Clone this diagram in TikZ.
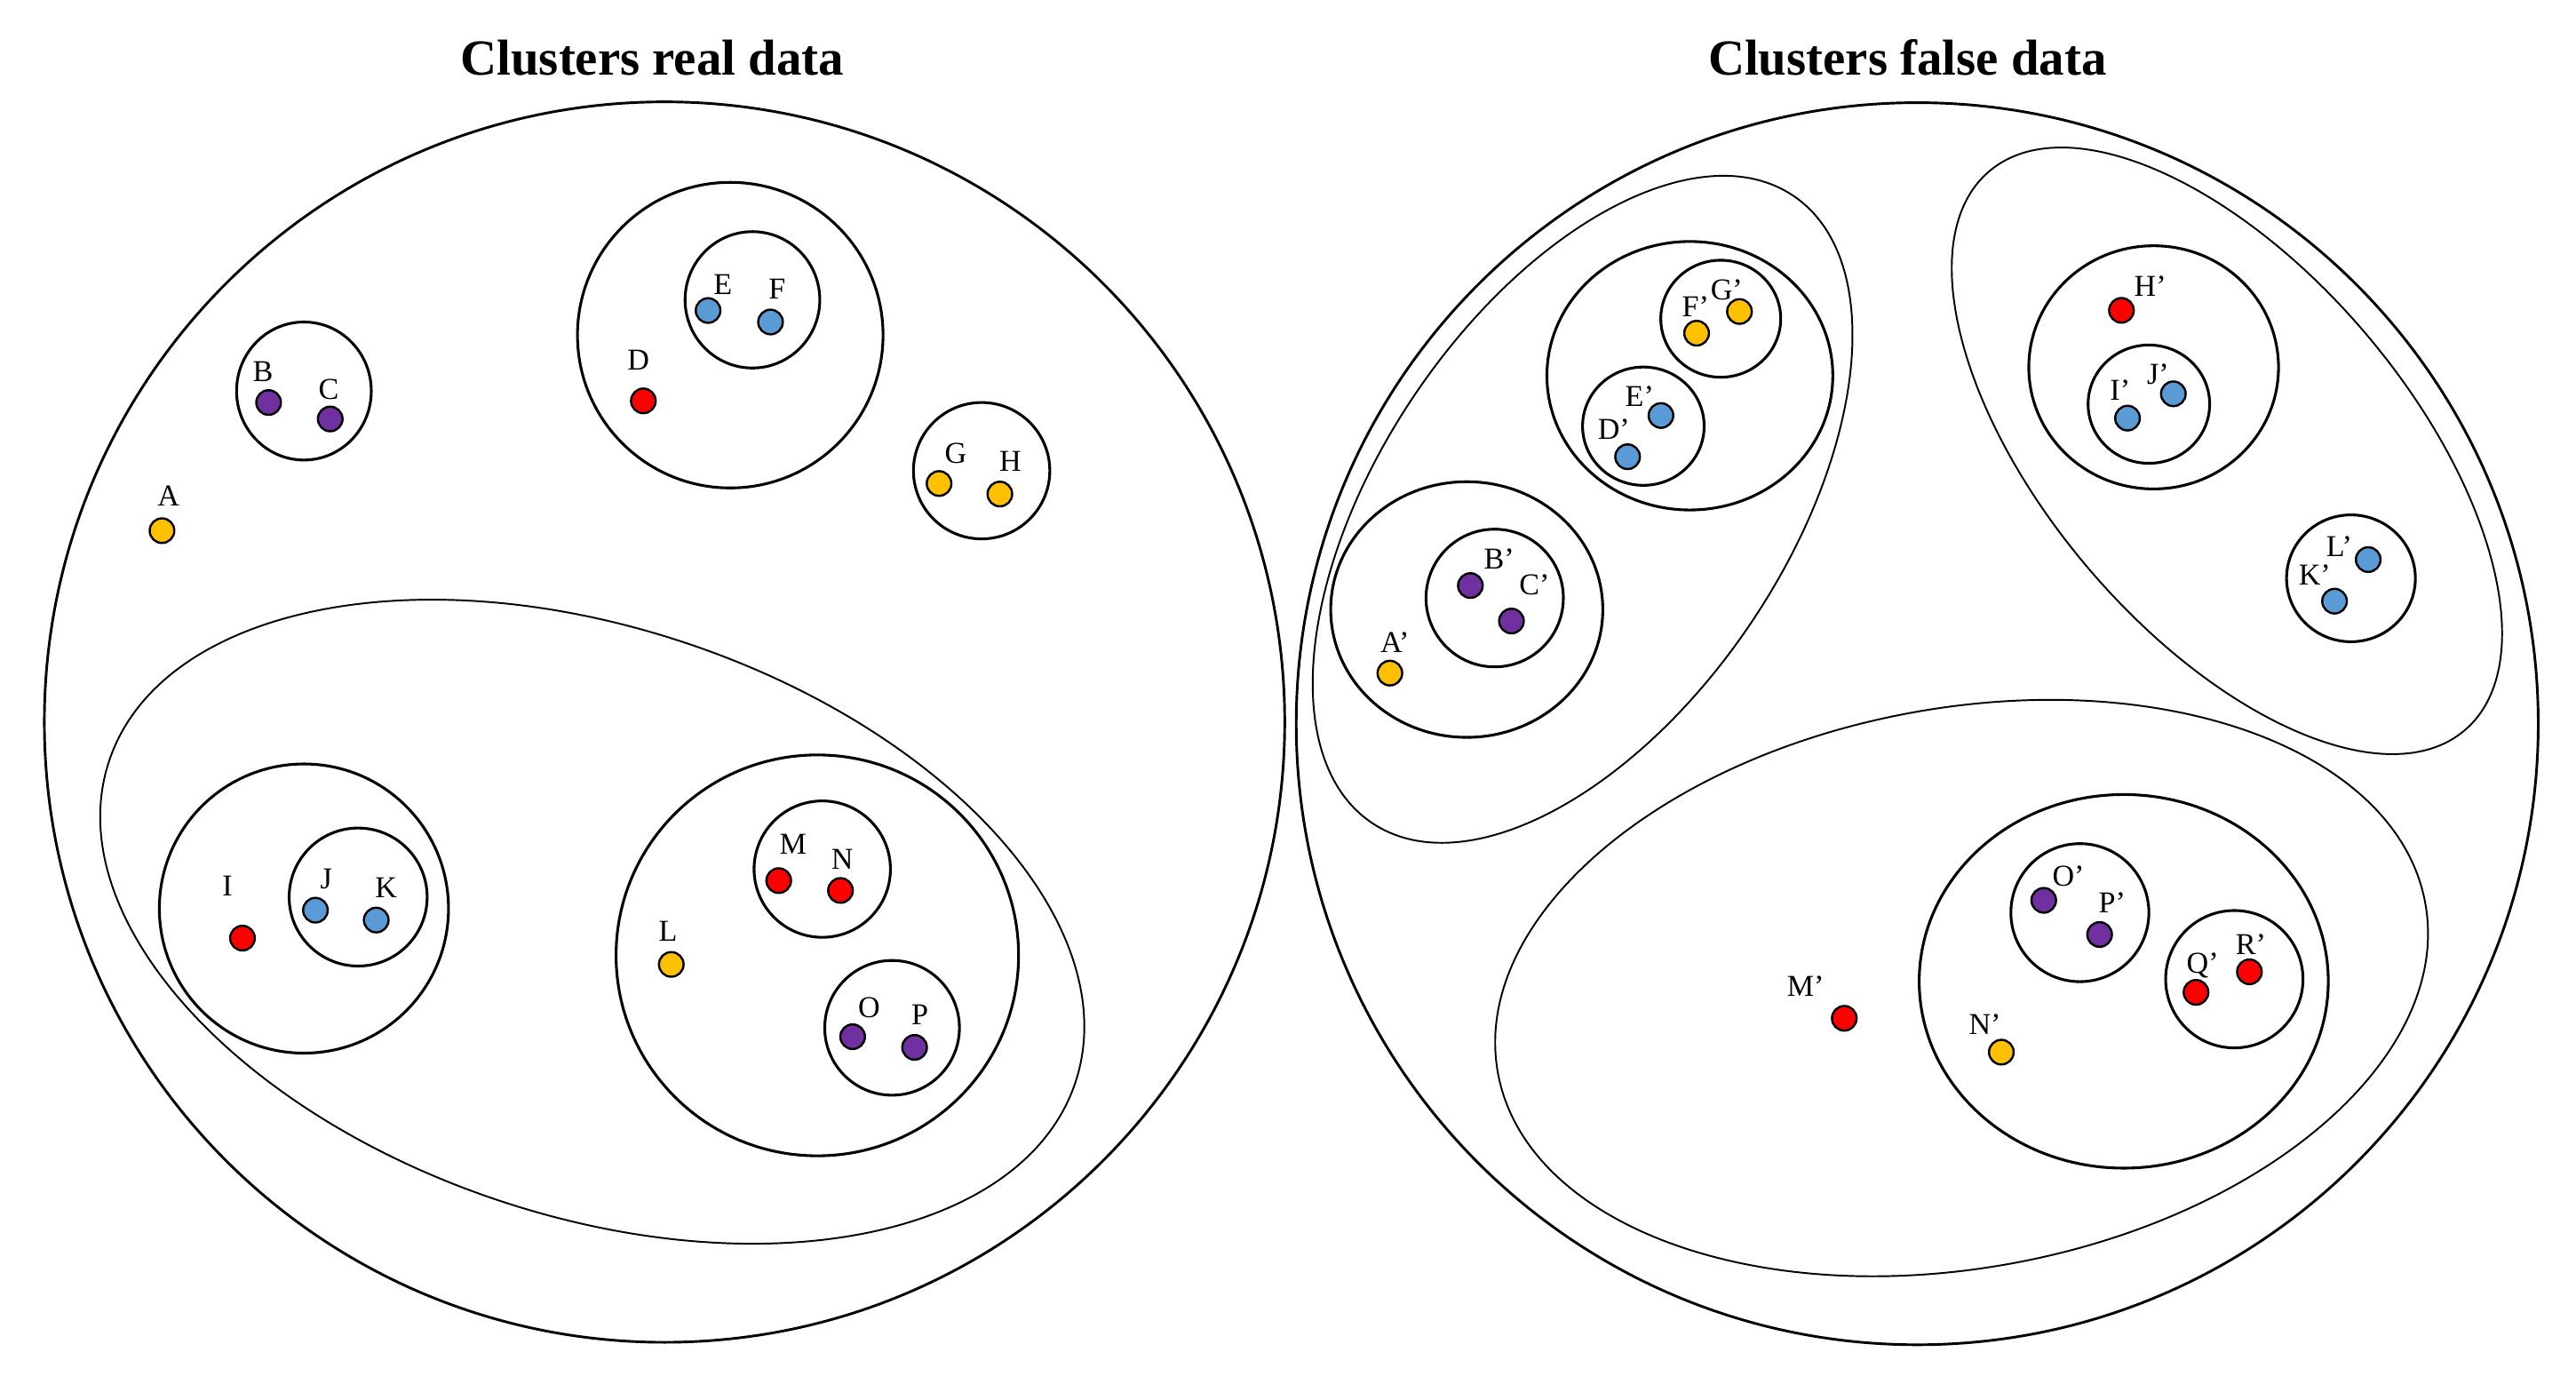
\documentclass[tikz,border=0pt]{standalone}
\usepackage{fontspec}
\setmainfont{Liberation Serif}
\definecolor{cgold}{HTML}{FFC000}
\definecolor{cblue}{HTML}{5B9BD5}
\definecolor{cpurple}{HTML}{7030A0}
\definecolor{cred}{HTML}{FF0000}
\begin{document}
\begin{tikzpicture}[x=0.02cm, y=-0.02cm,
  pt/.style={circle, draw=black, line width=0.75pt, fill=#1, minimum size=0.3cm, inner sep=0pt},
  lbl/.style={font=\fontsize{10.5}{12}\selectfont, inner sep=0pt, text height=6.95pt, text depth=0pt},
  clus/.style={line width=0.95pt},
  outerc/.style={line width=0.9pt},
  grp/.style={line width=0.6pt},
  ttl/.style={font=\fontsize{17.5}{20}\selectfont\bfseries, anchor=base, inner sep=0pt}]
\useasboundingbox (0,0) rectangle (1568,847);

% titles
\node[ttl] (t1) at (397,45.5) {Clusters real data};
\node[ttl] (t2) at (1161,45.5) {Clusters false data};

% ===== left panel =====
\draw[outerc] (404.5,439.5) circle [radius=377.5];
\draw[grp, rotate around={-18.4:(360.5,561)}] (360.5,561) ellipse [x radius=6.2cm, y radius=3.58cm];
\draw[clus] (185,238) ellipse [x radius=41, y radius=42];
\draw[clus] (444.5,204) ellipse [x radius=93, y radius=93];
\draw[clus] (458,182.5) ellipse [x radius=41, y radius=41.5];
\draw[clus] (597.5,286.5) ellipse [x radius=41.5, y radius=41.5];
\draw[clus] (185,553) ellipse [x radius=88, y radius=88];
\draw[clus] (218,546) ellipse [x radius=42, y radius=42];
\draw[clus] (497.5,581.5) ellipse [x radius=122.5, y radius=122];
\draw[clus] (500.5,529) ellipse [x radius=41.5, y radius=41.5];
\draw[clus] (543,625.6) ellipse [x radius=41, y radius=41];

\node[pt=cgold] (A) at (98.6,323) {};
\node[pt=cpurple] (B) at (163.5,245) {};
\node[pt=cpurple] (C) at (201,255) {};
\node[pt=cred] (D) at (391.6,244) {};
\node[pt=cblue] (E) at (431,189) {};
\node[pt=cblue] (F) at (469,196) {};
\node[pt=cgold] (G) at (571.6,294.3) {};
\node[pt=cgold] (H) at (608.6,300.7) {};
\node[pt=cred] (I) at (147.6,571) {};
\node[pt=cblue] (J) at (192,554) {};
\node[pt=cblue] (K) at (229,560) {};
\node[pt=cgold] (L) at (408.6,587) {};
\node[pt=cred] (M) at (474,536) {};
\node[pt=cred] (N) at (511.6,542) {};
\node[pt=cpurple] (O) at (519,631) {};
\node[pt=cpurple] (P) at (556.7,637.5) {};

\node[lbl] (lA) at (102.6,302) {A};
\node[lbl] (lB) at (160,226) {B};
\node[lbl] (lC) at (200,237) {C};
\node[lbl] (lD) at (388.6,219) {D};
\node[lbl] (lE) at (440,173) {E};
\node[lbl] (lF) at (473,176) {F};
\node[lbl] (lG) at (581.7,276) {G};
\node[lbl] (lH) at (615,280.5) {H};
\node[lbl] (lI) at (138.5,539) {I};
\node[lbl] (lJ) at (198.6,535) {J};
\node[lbl] (lK) at (235,540) {K};
\node[lbl] (lL) at (406.6,566.7) {L};
\node[lbl] (lM) at (482.7,513.5) {M};
\node[lbl] (lN) at (512.7,523) {N};
\node[lbl] (lO) at (529,613) {O};
\node[lbl] (lP) at (560,617.5) {P};

% ===== right panel =====
\draw[outerc] (1167,440.5) circle [radius=378];
\draw[grp, rotate around={56.1:(963.3,310)}] (963.3,310) ellipse [x radius=4.6cm, y radius=2.474cm];
\draw[grp, rotate around={-49.6:(1355.5,274.4)}] (1355.5,274.4) ellipse [x radius=4.468cm, y radius=2.212cm];
\draw[grp, rotate around={10.4:(1194,601.4)}] (1194,601.4) ellipse [x radius=5.74cm, y radius=3.408cm];

\draw[clus] (1028.6,228.7) ellipse [x radius=87, y radius=81.7];
\draw[clus] (1047.4,194) ellipse [x radius=36.5, y radius=35.6];
\draw[clus] (1000.3,259.4) ellipse [x radius=37, y radius=36];
\draw[clus] (892.8,371) ellipse [x radius=82.8, y radius=77.8];
\draw[clus] (909.8,364) ellipse [x radius=41.8, y radius=41.9];
\draw[clus] (1310.9,223.6) ellipse [x radius=76, y radius=74];
\draw[clus] (1308,246) ellipse [x radius=37, y radius=36];
\draw[clus] (1431,352) ellipse [x radius=39.2, y radius=38.6];
\draw[clus] (1292.7,597.3) ellipse [x radius=124.5, y radius=113.7];
\draw[clus] (1266,555.5) ellipse [x radius=42, y radius=42];
\draw[clus] (1360,596) ellipse [x radius=41.8, y radius=41.8];

\node[pt=cgold] (A2) at (846,409.7) {};
\node[pt=cpurple] (B2) at (895,356.4) {};
\node[pt=cpurple] (C2) at (920,378) {};
\node[pt=cblue] (D2) at (990.7,278) {};
\node[pt=cblue] (E2) at (1011,252.9) {};
\node[pt=cgold] (F2) at (1032.7,202.8) {};
\node[pt=cgold] (G2) at (1058.8,189.6) {};
\node[pt=cred] (H2) at (1291.3,188.9) {};
\node[pt=cblue] (I2) at (1295,254.5) {};
\node[pt=cblue] (J2) at (1322.9,239.7) {};
\node[pt=cblue] (K2) at (1421,365.9) {};
\node[pt=cblue] (L2) at (1441.5,340.6) {};
\node[pt=cred] (M2) at (1122.6,619.8) {};
\node[pt=cgold] (N2) at (1218.2,640.4) {};
\node[pt=cpurple] (O2) at (1244,548) {};
\node[pt=cpurple] (P2) at (1278,568.8) {};
\node[pt=cred] (Q2) at (1336.7,604) {};
\node[pt=cred] (R2) at (1369.2,591.5) {};

\node[lbl] (lA2) at (849,391) {A’};
\node[lbl] (lB2) at (912.5,340) {B’};
\node[lbl] (lC2) at (934,355.8) {C’};
\node[lbl] (lD2) at (982.3,261) {D’};
\node[lbl] (lE2) at (998,241) {E’};
\node[lbl] (lF2) at (1032,186.5) {F’};
\node[lbl] (lG2) at (1051,176.6) {G’};
\node[lbl] (lH2) at (1308.8,174) {H’};
\node[lbl] (lI2) at (1290.5,237.5) {I’};
\node[lbl] (lJ2) at (1313.5,227.5) {J’};
\node[lbl] (lK2) at (1408.9,349.8) {K’};
\node[lbl] (lL2) at (1423.8,332.9) {L’};
\node[lbl] (lM2) at (1099,600.4) {M’};
\node[lbl] (lN2) at (1208.2,623.4) {N’};
\node[lbl] (lO2) at (1259,533.2) {O’};
\node[lbl] (lP2) at (1285.6,549.7) {P’};
\node[lbl] (lQ2) at (1340.7,586) {Q’};
\node[lbl] (lR2) at (1370,574.8) {R’};
\end{tikzpicture}
\end{document}
